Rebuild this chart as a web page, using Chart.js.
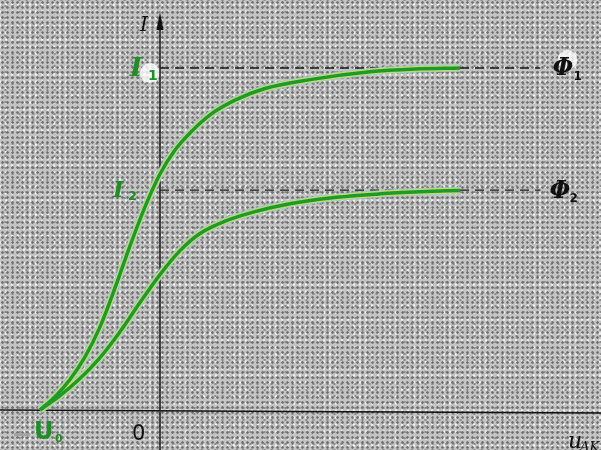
<!DOCTYPE html>
<html lang="ru">
<head>
<meta charset="UTF-8">
<title>Вольт-амперная характеристика фотоэлемента</title>
<script src="https://cdn.jsdelivr.net/npm/chart.js"></script>
<style>
  html, body { margin: 0; padding: 0; }
  body {
    width: 601px; height: 450px; overflow: hidden;
    background-color: #c4c4c4;
    background-image:
      radial-gradient(circle, #6e6e6e 0.9px, transparent 1.6px),
      radial-gradient(circle, #8c8c8c 0.8px, transparent 1.5px),
      radial-gradient(circle, #f0f0f0 0.9px, transparent 1.5px);
    background-size: 5px 5px, 7px 6px, 6px 7px;
    background-position: 0 0, 2px 3px, 3px 1px;
  }
  .grafico { width: 601px; height: 450px; position: relative; }
</style>
</head>
<body>
<div class="grafico"><canvas id="myChart"></canvas></div>
<script>
  // кривая для светового потока Ф1 (напряжение, ток)
  var U1 = [-1.0, -0.875, -0.75, -0.625, -0.5, -0.375, -0.25, -0.125, 0, 0.125, 0.25, 0.417, 0.625, 0.875, 1.25, 1.75, 2.125, 2.5];
  var I1 = [0, 0.039, 0.089, 0.155, 0.243, 0.357, 0.480, 0.594, 0.690, 0.760, 0.810, 0.863, 0.906, 0.940, 0.966, 0.989, 0.997, 1.0];
  // кривая для светового потока Ф2
  var U2 = [-1.0, -0.833, -0.667, -0.5, -0.333, -0.167, 0, 0.167, 0.333, 0.542, 0.792, 1.083, 1.417, 1.833, 2.167, 2.5];
  var I2 = [0, 0.042, 0.092, 0.153, 0.229, 0.314, 0.396, 0.466, 0.516, 0.552, 0.580, 0.603, 0.620, 0.632, 0.638, 0.642];
  // токи насыщения и конец пунктира
  var Inas = [1.0, 0.643];
  var Upunktir = [0, 3.17];
  var U0 = -1.0;

  function tochki(xs, ys) {
    var r = [];
    for (var i = 0; i < xs.length; i++) r.push({ x: xs[i], y: ys[i] });
    return r;
  }

  // первый набор рисуется поверх остальных
  function kriv(xs, ys, color, width) {
    return {
      data: tochki(xs, ys), borderColor: color, borderWidth: width,
      pointRadius: 0, fill: false, showLine: true,
      cubicInterpolationMode: 'monotone'
    };
  }

  function punktir(y) {
    return {
      data: tochki(Upunktir, [y, y]), borderColor: '#1a1a1a', borderWidth: 1.3,
      borderDash: [9, 6], pointRadius: 0, showLine: true
    };
  }

  var osi = {
    id: 'osi',
    beforeDatasetsDraw(chart) {
      var c = chart.ctx, sx = chart.scales.x, sy = chart.scales.y;
      var x0 = sx.getPixelForValue(0), y0 = sy.getPixelForValue(0);
      var yI1 = sy.getPixelForValue(Inas[0]);
      var xE = sx.getPixelForValue(Upunktir[1]);
      c.save();
      // белые пятна под подписями
      c.fillStyle = 'rgba(255,255,255,0.8)';
      c.beginPath(); c.arc(x0 - 10, yI1 + 5, 10, 0, Math.PI * 2); c.fill();
      c.beginPath(); c.arc(xE + 27, yI1 - 8, 10, 0, Math.PI * 2); c.fill();

      c.strokeStyle = '#111';
      c.lineWidth = 1.4;
      c.beginPath();
      c.moveTo(0, y0); c.lineTo(chart.width, y0 + 3);
      c.moveTo(x0, 22); c.lineTo(x0, chart.height);
      c.stroke();
      c.fillStyle = '#111';
      c.beginPath();
      c.moveTo(x0, 12); c.lineTo(x0 - 3.5, 30); c.lineTo(x0 + 3.5, 30);
      c.closePath(); c.fill();
      c.restore();
    },
    afterDatasetsDraw(chart) {
      var c = chart.ctx, sx = chart.scales.x, sy = chart.scales.y;
      var x0 = sx.getPixelForValue(0), y0 = sy.getPixelForValue(0);
      var yI1 = sy.getPixelForValue(Inas[0]), yI2 = sy.getPixelForValue(Inas[1]);
      var xE = sx.getPixelForValue(Upunktir[1]);
      var xU = sx.getPixelForValue(U0);
      c.save();
      c.textBaseline = 'middle';

      // I у оси
      c.fillStyle = '#111';
      c.font = 'italic 20px "DejaVu Serif"';
      c.fillText('I', x0 - 20, 26);

      // I1, I2, U0 зелёные
      c.fillStyle = '#1f8f25';
      c.font = 'bold italic 26px "DejaVu Serif"';
      c.fillText('I', x0 - 30, yI1 + 1);
      c.font = 'bold 14px "DejaVu Sans"';
      c.fillText('1', x0 - 12, yI1 + 8);
      c.font = 'bold italic 23px "DejaVu Serif"';
      c.fillText('I', x0 - 47, yI2 + 1);
      c.font = 'bold 13px "DejaVu Sans"';
      c.fillText('2', x0 - 32, yI2 + 7);
      c.font = 'bold 24px "DejaVu Sans"';
      c.fillText('U', xU - 6, y0 + 23);
      c.font = 'bold 11px "DejaVu Sans"';
      c.fillText('0', xU + 15, y0 + 29);
      c.fillStyle = 'rgba(150,160,150,0.8)';
      c.fillRect(xU - 26, y0 + 23, 16, 3);

      // Ф1, Ф2
      c.fillStyle = '#111';
      c.font = 'bold italic 24px "DejaVu Serif"';
      c.fillText('Φ', xE + 12, yI1 + 1);
      c.fillText('Φ', xE + 9, yI2 + 2);
      c.font = 'bold 12px "DejaVu Sans"';
      c.fillText('1', xE + 33, yI1 + 9);
      c.fillText('2', xE + 29, yI2 + 9);

      // 0 и u_AK
      c.font = '21px "DejaVu Sans"';
      c.fillText('0', x0 - 28, y0 + 25);
      c.font = 'italic 22px "DejaVu Serif"';
      c.fillText('u', sx.getPixelForValue(3.4), y0 + 32);
      c.font = 'italic 13px "DejaVu Serif"';
      c.fillText('AK', sx.getPixelForValue(3.4) + 12, y0 + 38);
      c.restore();
    }
  };

  new Chart(document.getElementById('myChart'), {
    type: 'scatter',
    data: {
      datasets: [
        kriv(U1, I1, '#1c9a2a', 3.5),
        kriv(U2, I2, '#1c9a2a', 3.5),
        kriv(U1, I1, 'rgba(205,215,100,0.95)', 6),
        kriv(U2, I2, 'rgba(205,215,100,0.95)', 6),
        kriv(U1, I1, 'rgba(140,205,225,0.85)', 7.5),
        kriv(U2, I2, 'rgba(140,205,225,0.85)', 7.5),
        punktir(Inas[0]),
        punktir(Inas[1])
      ]
    },
    options: {
      responsive: true,
      maintainAspectRatio: false,
      animation: false,
      layout: { padding: 0 },
      plugins: { legend: { display: false }, tooltip: { enabled: false } },
      scales: {
        x: { type: 'linear', display: false, min: -160 / 120, max: 441 / 120 },
        y: { type: 'linear', display: false, min: -40 / 342, max: 410 / 342 }
      }
    },
    plugins: [osi]
  });
</script>
</body>
</html>
